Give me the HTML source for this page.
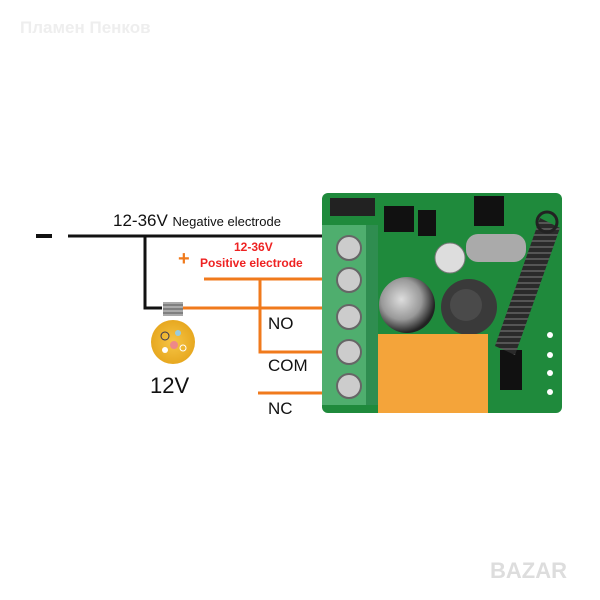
<!DOCTYPE html>
<html><head><style>
body{margin:0;width:600px;height:600px;background:#fff;overflow:hidden;position:relative;font-family:"Liberation Sans","DejaVu Sans",sans-serif}
.t{position:absolute;white-space:nowrap}
</style></head><body>
<svg width="600" height="600" style="position:absolute;left:0;top:0">
<defs>
<radialGradient id="bulb" cx="0.5" cy="0.5" r="0.5"><stop offset="0" stop-color="#f6c545"/><stop offset="1" stop-color="#e7a820"/></radialGradient>
<radialGradient id="cap" cx="0.4" cy="0.4" r="0.6"><stop offset="0" stop-color="#ddd"/><stop offset="0.6" stop-color="#999"/><stop offset="1" stop-color="#222"/></radialGradient>
<pattern id="coil" width="10" height="6" patternUnits="userSpaceOnUse"><rect width="10" height="6" fill="#2a2a2a"/><rect y="0" width="10" height="2" fill="#555"/></pattern>
</defs>
<!-- wires -->
<rect x="36" y="234" width="16" height="4" fill="#111"/>
<line x1="68" y1="236" x2="330" y2="236" stroke="#111" stroke-width="3"/>
<polyline points="145,236 145,308 162,308" fill="none" stroke="#111" stroke-width="3"/>
<line x1="180" y1="308" x2="330" y2="308" stroke="#f07a1c" stroke-width="3"/>
<line x1="204" y1="279" x2="330" y2="279" stroke="#f07a1c" stroke-width="3"/>
<polyline points="260,279 260,352 330,352" fill="none" stroke="#f07a1c" stroke-width="3"/>
<line x1="258" y1="393" x2="330" y2="393" stroke="#f07a1c" stroke-width="3"/>
<!-- bulb -->
<rect x="163" y="302" width="20" height="14" fill="#aaa"/>
<line x1="163" y1="305" x2="183" y2="305" stroke="#555"/><line x1="163" y1="309" x2="183" y2="309" stroke="#555"/><line x1="163" y1="313" x2="183" y2="313" stroke="#555"/>
<circle cx="173" cy="342" r="22" fill="url(#bulb)"/>
<circle cx="165" cy="336" r="4" fill="none" stroke="#335"/><circle cx="178" cy="333" r="3" fill="#9cd"/><circle cx="174" cy="345" r="4" fill="#e88"/><circle cx="183" cy="348" r="3" fill="none" stroke="#fff"/><circle cx="165" cy="350" r="3" fill="#fff"/>
<!-- board -->
<rect x="322" y="193" width="240" height="220" rx="6" fill="#1f8a3c"/>
<rect x="322" y="225" width="50" height="180" fill="#4fae6e"/>
<rect x="366" y="225" width="12" height="180" fill="#2f8d50"/>
<g fill="#ccc" stroke="#666" stroke-width="2">
<circle cx="349" cy="248" r="12"/><circle cx="349" cy="280" r="12"/><circle cx="349" cy="317" r="12"/><circle cx="349" cy="352" r="12"/><circle cx="349" cy="386" r="12"/>
</g>
<rect x="330" y="198" width="45" height="18" fill="#222"/>
<rect x="384" y="206" width="30" height="26" fill="#111"/>
<rect x="418" y="210" width="18" height="26" fill="#111"/>
<rect x="474" y="196" width="30" height="30" fill="#111"/>
<rect x="466" y="234" width="60" height="28" rx="12" fill="#aaa"/>
<circle cx="450" cy="258" r="15" fill="#ddd" stroke="#777"/>
<circle cx="407" cy="305" r="28" fill="url(#cap)"/>
<circle cx="469" cy="307" r="28" fill="#3a3a3a"/><circle cx="466" cy="305" r="16" fill="#4a4a4a"/>
<rect x="378" y="334" width="110" height="79" fill="#f4a43a"/>
<rect x="500" y="350" width="22" height="40" fill="#111"/>
<g fill="#fff"><circle cx="550" cy="335" r="3"/><circle cx="550" cy="355" r="3"/><circle cx="550" cy="373" r="3"/><circle cx="550" cy="392" r="3"/></g>
<polygon points="540,218 560,228 515,355 495,346" fill="url(#coil)"/>
<circle cx="547" cy="222" r="10" fill="none" stroke="#222" stroke-width="3"/>
</svg>
<div class="t" style="left:20px;top:18px;font-size:17px;font-weight:bold;color:#eee">Пламен Пенков</div>
<div class="t" style="left:113px;top:211px;font-size:17px;color:#111">12-36V <span style="font-size:13px">Negative electrode</span></div>
<div class="t" style="left:234px;top:240px;font-size:12px;font-weight:bold;color:#e22">12-36V</div>
<div class="t" style="left:200px;top:256px;font-size:12px;font-weight:bold;color:#e22">Positive electrode</div>
<div class="t" style="left:178px;top:248px;font-size:20px;font-weight:bold;color:#f07a1c">+</div>
<div class="t" style="left:268px;top:314px;font-size:17px;color:#111">NO</div>
<div class="t" style="left:268px;top:356px;font-size:17px;color:#111">COM</div>
<div class="t" style="left:268px;top:399px;font-size:17px;color:#111">NC</div>
<div class="t" style="left:150px;top:373px;font-size:22px;color:#111">12V</div>
<div class="t" style="left:490px;top:558px;font-size:22px;font-weight:bold;color:#ddd">BAZAR</div>
</body></html>
